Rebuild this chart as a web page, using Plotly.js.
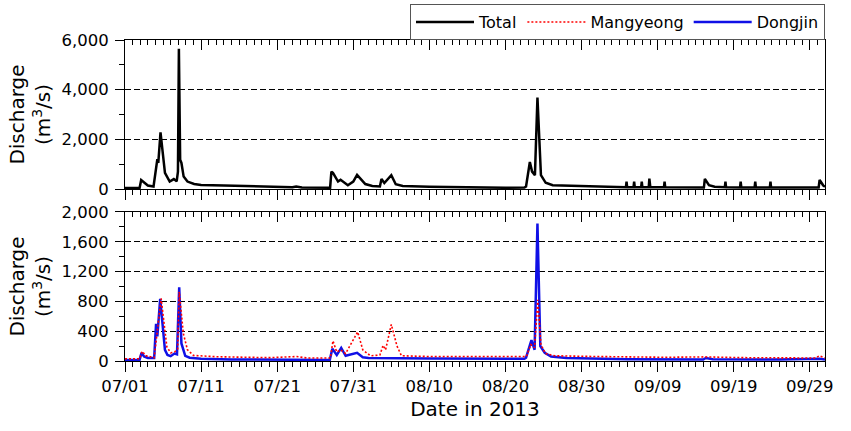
<!DOCTYPE html>
<html>
<head>
<meta charset="utf-8">
<script src="https://cdn.plot.ly/plotly-3.0.1.min.js"></script>
<style>html,body{margin:0;padding:0;background:#fff;}#chart{width:851px;height:431px;}</style>
</head>
<body>
<div id="chart"></div>
<script>
// ---- Data ----
const totalDates = [
 '2013-07-01 00:00','2013-07-02 00:00','2013-07-02 22:00','2013-07-03 03:00','2013-07-03 12:00',
 '2013-07-04 00:00','2013-07-04 18:00','2013-07-04 22:00','2013-07-05 06:00','2013-07-05 09:00',
 '2013-07-05 16:00','2013-07-06 06:00','2013-07-06 21:00','2013-07-07 10:00','2013-07-07 19:00',
 '2013-07-07 23:00','2013-07-08 02:00','2013-07-08 06:00','2013-07-08 10:00','2013-07-08 17:00',
 '2013-07-09 05:00','2013-07-10 02:00','2013-07-11 00:00','2013-07-14 00:00','2013-07-17 00:00',
 '2013-07-20 00:00','2013-07-23 00:00','2013-07-23 12:00','2013-07-24 06:00','2013-07-27 23:00',
 '2013-07-28 03:00','2013-07-28 08:00','2013-07-29 00:00','2013-07-29 08:00','2013-07-30 07:00',
 '2013-07-31 00:00','2013-07-31 12:00','2013-08-01 14:00','2013-08-02 12:00','2013-08-03 12:00',
 '2013-08-03 17:00','2013-08-04 02:00','2013-08-05 00:00','2013-08-05 14:00','2013-08-06 12:00',
 '2013-08-10 00:00','2013-08-15 00:00','2013-08-20 00:00','2013-08-22 12:00','2013-08-22 17:00',
 '2013-08-23 05:00','2013-08-23 12:00','2013-08-23 21:00','2013-08-24 05:00','2013-08-24 16:00',
 '2013-08-25 07:00','2013-08-26 05:00','2013-08-28 00:00','2013-09-01 00:00','2013-09-04 20:00',
 '2013-09-04 22:00','2013-09-05 00:00','2013-09-05 20:00','2013-09-05 22:00','2013-09-06 00:00',
 '2013-09-06 20:00','2013-09-06 22:00','2013-09-07 00:00','2013-09-07 20:00','2013-09-07 22:00',
 '2013-09-08 01:00','2013-09-09 20:00','2013-09-09 22:00','2013-09-10 00:00','2013-09-15 02:00',
 '2013-09-15 05:00','2013-09-15 18:00','2013-09-16 12:00','2013-09-17 20:00','2013-09-17 22:00',
 '2013-09-18 00:00','2013-09-19 20:00','2013-09-19 22:00','2013-09-20 00:00','2013-09-21 18:00',
 '2013-09-21 20:00','2013-09-21 22:00','2013-09-23 18:00','2013-09-23 20:00','2013-09-23 22:00',
 '2013-09-30 04:00','2013-09-30 07:00','2013-09-30 18:00','2013-10-01 00:00'
];
const totalValues = [
 40,40,45,360,260,
 140,100,450,1200,1050,
 2280,650,300,400,310,
 700,5650,1175,1050,500,
 300,200,160,140,120,
 90,70,100,60,55,
 700,650,300,370,150,
 300,570,200,120,100,
 400,240,555,190,120,
 90,65,50,60,100,
 1090,700,560,3680,560,
 250,150,140,110,70,
 300,70,70,300,70,
 70,300,70,70,420,
 80,70,300,70,60,
 410,150,90,70,300,
 70,65,300,65,65,
 300,65,60,300,60,
 60,370,150,90
];

const mangyeongDates = [
 '2013-07-01 00:00','2013-07-02 22:00','2013-07-03 06:00','2013-07-03 18:00','2013-07-04 20:00',
 '2013-07-05 04:00','2013-07-05 18:00','2013-07-06 12:00','2013-07-07 00:00','2013-07-07 12:00',
 '2013-07-07 22:00','2013-07-08 03:00','2013-07-08 16:00','2013-07-09 05:00','2013-07-10 00:00',
 '2013-07-13 00:00','2013-07-20 00:00','2013-07-23 12:00','2013-07-25 00:00','2013-07-28 00:00',
 '2013-07-28 08:00','2013-07-28 20:00','2013-07-29 08:00','2013-07-30 00:00','2013-07-31 14:00',
 '2013-08-01 06:00','2013-08-02 06:00','2013-08-03 12:00','2013-08-03 22:00','2013-08-04 06:00',
 '2013-08-05 00:00','2013-08-05 18:00','2013-08-06 08:00','2013-08-10 00:00','2013-08-20 00:00',
 '2013-08-22 18:00','2013-08-23 08:00','2013-08-23 20:00','2013-08-24 06:00','2013-08-24 16:00',
 '2013-08-25 06:00','2013-08-26 12:00','2013-09-01 00:00','2013-09-10 00:00','2013-09-15 06:00',
 '2013-09-20 00:00','2013-09-29 18:00','2013-09-30 06:00','2013-09-30 18:00','2013-10-01 00:00'
];
const mangyeongValues = [
 30,30,130,70,45,
 350,840,190,110,120,
 160,930,370,150,75,
 57,45,60,40,40,
 270,120,150,100,390,
 150,70,80,210,150,
 490,200,70,60,55,
 60,220,180,820,220,
 100,70,60,50,55,
 45,40,70,50,40
];

const dongjinDates = [
 '2013-07-01 00:00','2013-07-02 22:00','2013-07-03 04:00','2013-07-03 12:00','2013-07-04 00:00',
 '2013-07-04 20:00','2013-07-05 02:00','2013-07-05 06:00','2013-07-05 15:00','2013-07-06 06:00',
 '2013-07-06 14:00','2013-07-07 00:00','2013-07-07 12:00','2013-07-07 20:00','2013-07-08 03:00',
 '2013-07-08 10:00','2013-07-08 22:00','2013-07-09 12:00','2013-07-11 00:00','2013-07-15 00:00',
 '2013-07-27 22:00','2013-07-28 06:00','2013-07-28 20:00','2013-07-29 10:00','2013-07-30 00:00',
 '2013-07-31 12:00','2013-08-01 06:00','2013-08-02 00:00','2013-08-10 00:00','2013-08-22 12:00',
 '2013-08-22 17:00','2013-08-23 10:00','2013-08-23 20:00','2013-08-24 05:00','2013-08-24 14:00',
 '2013-08-25 04:00','2013-08-26 00:00','2013-08-28 00:00','2013-09-05 00:00','2013-09-15 00:00',
 '2013-09-15 08:00','2013-09-16 06:00','2013-09-25 00:00','2013-09-30 06:00','2013-10-01 00:00'
];
const dongjinValues = [
 15,15,110,60,40,
 40,500,330,835,150,
 80,65,100,90,990,
 235,70,45,30,20,
 15,165,80,175,70,
 110,50,40,35,30,
 45,280,150,1845,200,
 110,60,40,25,20,
 40,25,20,30,20
];

const xTickFormat = '%m/%d';
const xRange = ['2013-07-01', '2013-10-01'];
const topYRange = [0, 6000];
const bottomYRange = [0, 2000];
const yTitle = 'Discharge<br>(m<sup>3</sup>/s)';
const xTitle = 'Date in 2013';

// ---- Plot ----
const FONT = 'DejaVu Sans, Verdana, sans-serif';
const DAY = 86400000;

const traces = [
  {x: totalDates, y: totalValues, xaxis: 'x2', yaxis: 'y2', type: 'scatter', mode: 'lines',
   name: 'Total', line: {color: '#000000', width: 2.5}, legendrank: 1},
  {x: dongjinDates, y: dongjinValues, xaxis: 'x', yaxis: 'y', type: 'scatter', mode: 'lines',
   name: 'Dongjin', line: {color: '#1010e6', width: 2.5}, legendrank: 3},
  {x: mangyeongDates, y: mangyeongValues, xaxis: 'x', yaxis: 'y', type: 'scatter', mode: 'lines',
   name: 'Mangyeong', line: {color: '#ff0000', width: 1.6, dash: '2px,2px'}, legendrank: 2},
  // carriers for the top-edge tick axes (invisible)
  {x: totalDates, y: totalValues, xaxis: 'x4', yaxis: 'y2', type: 'scatter', mode: 'lines',
   line: {width: 0}, opacity: 0, showlegend: false, hoverinfo: 'skip'},
  {x: dongjinDates, y: dongjinValues, xaxis: 'x3', yaxis: 'y', type: 'scatter', mode: 'lines',
   line: {width: 0}, opacity: 0, showlegend: false, hoverinfo: 'skip'}
];

function xBase(extra) {
  return Object.assign({
    type: 'date', range: xRange, tick0: xRange[0], dtick: 10 * DAY, tickformat: xTickFormat,
    ticks: 'outside', ticklen: 10, tickwidth: 1, tickcolor: '#000',
    showline: true, linecolor: '#000', linewidth: 1, showgrid: false, zeroline: false,
    minor: {tick0: xRange[0], dtick: DAY, ticks: 'outside', ticklen: 5, tickwidth: 1, tickcolor: '#000', showgrid: false},
    tickfont: {size: 16.5, family: FONT, color: '#000'}, fixedrange: true
  }, extra);
}
function xTop(extra) {
  const a = xBase(extra);
  a.ticks = 'inside';
  a.minor = Object.assign({}, a.minor, {ticks: 'inside'});
  a.side = 'top';
  a.showticklabels = false;
  return a;
}
function yBase(extra) {
  return Object.assign({
    tickformat: ',d', ticks: 'outside', ticklen: 9, tickwidth: 1, tickcolor: '#000',
    showline: true, mirror: true, linecolor: '#000', linewidth: 1,
    showgrid: true, gridcolor: '#000', gridwidth: 1, griddash: '6px,3px', zeroline: false,
    tickfont: {size: 16.5, family: FONT, color: '#000'}, ticklabelstandoff: 3,
    title: {text: yTitle, font: {size: 20, family: FONT, color: '#000'}, standoff: 5},
    fixedrange: true
  }, extra);
}

const layout = {
  width: 851, height: 431,
  margin: {l: 125, r: 26, t: 40, b: 70, autoexpand: false},
  paper_bgcolor: '#fff', plot_bgcolor: '#fff',
  font: {family: FONT, color: '#000', size: 16},
  showlegend: true,
  hovermode: false,
  legend: {orientation: 'h', x: 1, xanchor: 'right', y: 1.112, yanchor: 'top',
           bgcolor: '#fff', bordercolor: '#555', borderwidth: 1,
           font: {size: 16, family: FONT, color: '#000'}, itemwidth: 58},
  xaxis: xBase({anchor: 'y', domain: [0, 1],
                title: {text: xTitle, font: {size: 20, family: FONT, color: '#000'}, standoff: 7}}),
  xaxis2: xBase({anchor: 'y2', domain: [0, 1], showticklabels: false}),
  xaxis3: xTop({anchor: 'y', overlaying: 'x'}),
  xaxis4: xTop({anchor: 'y2', overlaying: 'x2'}),
  yaxis: yBase({anchor: 'x', domain: [0, 0.4642], range: bottomYRange, dtick: 400,
                minor: {dtick: 200, ticks: 'outside', ticklen: 5, tickcolor: '#000', showgrid: false}}),
  yaxis2: yBase({anchor: 'x2', domain: [0.5358, 1], range: topYRange, dtick: 2000,
                 minor: {dtick: 1000, ticks: 'outside', ticklen: 5, tickcolor: '#000', showgrid: false}})
};

Plotly.newPlot('chart', traces, layout, {staticPlot: true, displayModeBar: false});
</script>
</body>
</html>
